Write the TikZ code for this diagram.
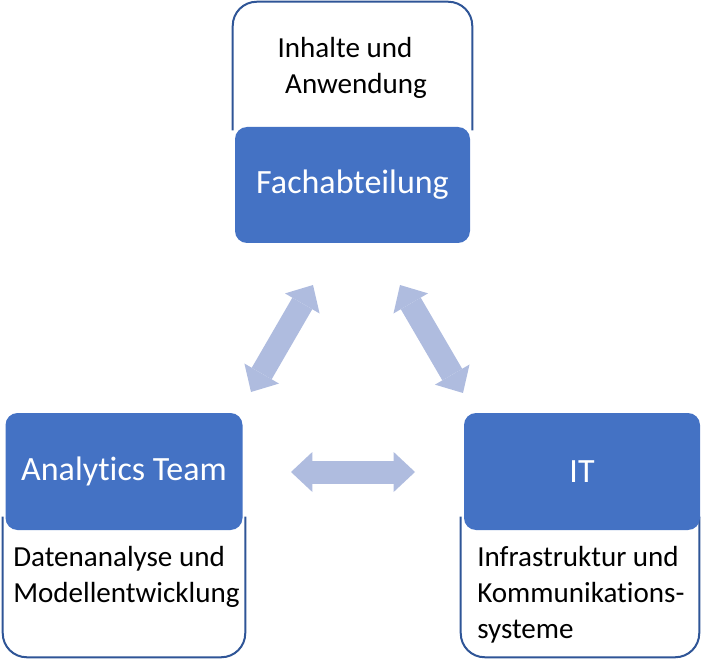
\documentclass[tikz,border=0pt]{standalone}
\usepackage{fontspec}
\setmainfont{Carlito}[Ligatures=CommonOff]
\usepackage{tikz}
\usetikzlibrary{arrows.meta}
\definecolor{boxblue}{HTML}{4472C4}
\definecolor{lineblue}{HTML}{2F5597}
\definecolor{arrowblue}{HTML}{AFBCDF}

\begin{document}
\begin{tikzpicture}[x=0.75pt, y=-0.75pt,
		frame/.style={inner sep=0pt, fill=white},
		frameline/.style={rounded corners=18pt, draw=lineblue, line width=1.5pt},
		block/.style={rounded corners=9pt, fill=boxblue, text=white, font=\fontsize{25.5}{30}\selectfont},
		info/.style={inner sep=0pt, font=\fontsize{21.8}{27}\selectfont},
		link/.style={line width=17.25pt, draw=arrowblue, {Triangle[width=30pt,length=16pt,line width=0pt]}-{Triangle[width=30pt,length=16pt,line width=0pt]}}
		]
		\useasboundingbox (0,0) rectangle (701,660);
		% outer frames, open towards the blue box
		\node[frame, minimum width=179.25pt, minimum height=96pt] (fachframe) at (352.5,66) {};
		\node[frame, minimum width=181.5pt, minimum height=105pt] (teamframe) at (124,587) {};
		\node[frame, minimum width=178.5pt, minimum height=105pt] (itframe) at (580,587) {};
		\draw[frameline] (fachframe.south west) -- (fachframe.north west) -- (fachframe.north east) -- (fachframe.south east);
		\draw[frameline] (teamframe.north west) -- (teamframe.south west) -- (teamframe.south east) -- (teamframe.north east);
		\draw[frameline] (itframe.north west) -- (itframe.south west) -- (itframe.south east) -- (itframe.north east);
		% blue boxes
		\node[block, minimum width=176.25pt, minimum height=87pt] (fach) at (352.5,185) {Fachabteilung};
		\node[block, minimum width=177.75pt, minimum height=87.75pt] (team) at (124,471.5) {Analytics Team};
		\node[block, minimum width=177pt, minimum height=87.75pt] (it) at (582,471.5) {IT};
		% descriptions
		\node[info, align=center, anchor=north] (fachtext) at (352,37) {Inhalte und\hspace*{10.5pt}\\\hspace*{6pt}Anwendung};
		\node[info, align=left, anchor=north west] (teamtext) at (13,546) {Datenanalyse und\\Modellentwicklung};
		\node[info, align=left, anchor=north west] (ittext) at (477,546) {Infrastruktur und\\Kommunikations-\\systeme};
		% arrows
		\coordinate (tl1) at (251,392);
		\coordinate (tl2) at (313,285);
		\coordinate (tr1) at (400,285);
		\coordinate (tr2) at (463,393);
		\coordinate (m1) at (291,472);
		\coordinate (m2) at (415,472);
		\draw[link] (tl1) -- (tl2);
		\draw[link] (tr1) -- (tr2);
		\draw[link] (m1) -- (m2);
\end{tikzpicture}
\end{document}
